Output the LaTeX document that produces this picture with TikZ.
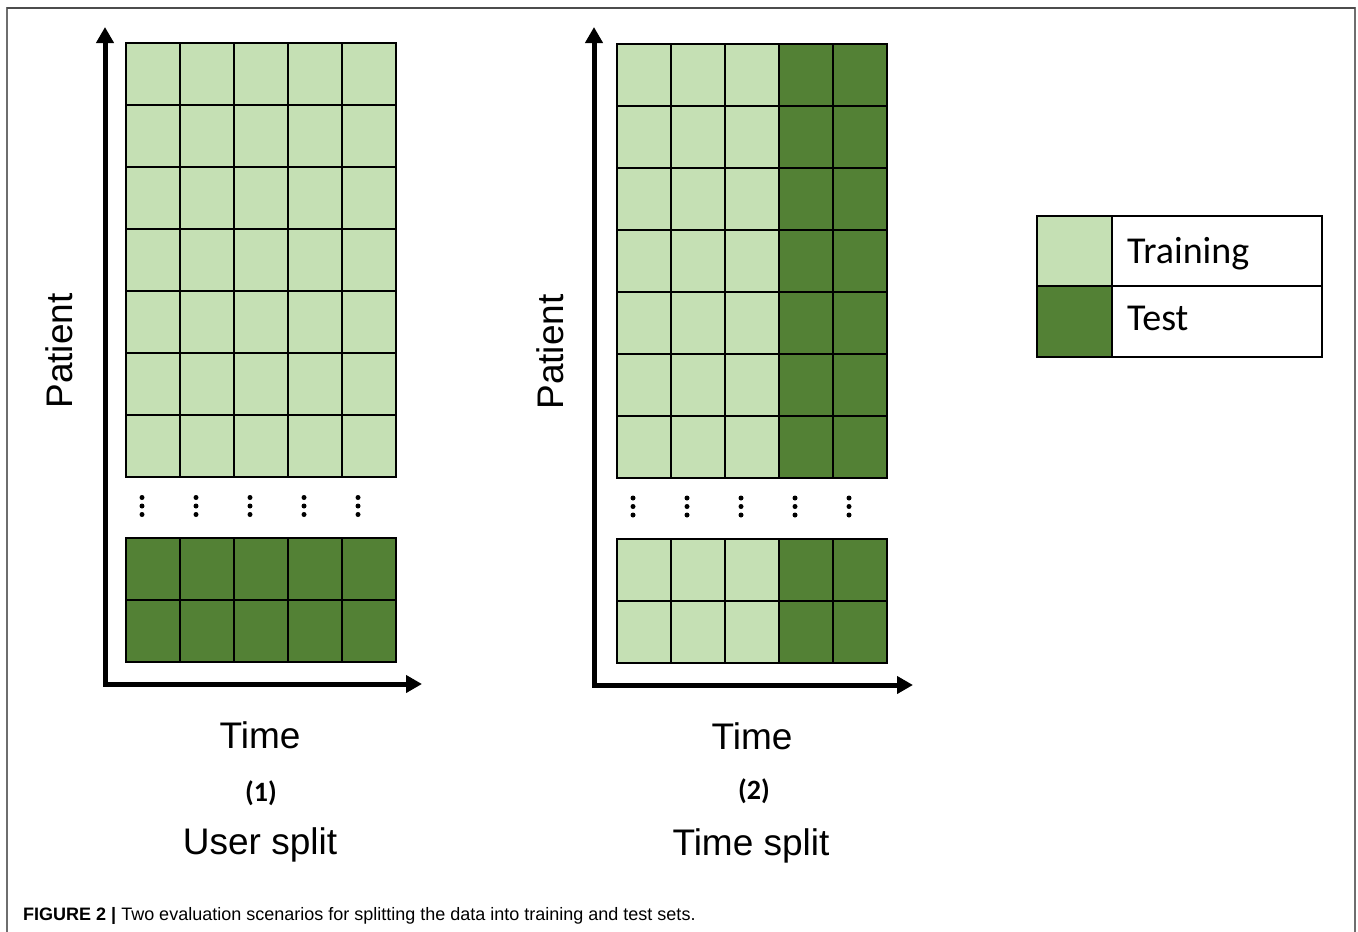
\documentclass[tikz,border=0pt]{standalone}
\usepackage{fontspec}
\setmainfont{Liberation Sans}
\newfontfamily\carlito{Carlito}
\usetikzlibrary{arrows.meta}
\definecolor{trainc}{HTML}{C5E0B4}
\definecolor{testc}{HTML}{538135}
\definecolor{framec}{HTML}{6E6E6E}
\tikzset{
  cell/.style={minimum width=54pt, minimum height=62pt, inner sep=0pt, outer sep=0pt},
  cellb/.style={cell},
  cellline/.style={draw=black, line width=2pt},
  axis/.style={line width=5pt, {Triangle[length=16pt,width=17pt]}-{Triangle[length=16pt,width=17pt]}, line join=miter},
  dotc/.style={circle, fill=black, inner sep=0pt, minimum size=5pt},
  lab/.style={font=\fontsize{37}{40}\selectfont, inner sep=0pt},
  num/.style={font=\carlito\bfseries\fontsize{28}{32}\selectfont, inner sep=0pt},
  legtxt/.style={font=\carlito\fontsize{38}{42}\selectfont, inner sep=0pt, anchor=base west},
  legbox/.style={draw=black, line width=2pt, inner sep=0pt, outer sep=0pt}
}
\begin{document}
\begin{tikzpicture}[x=1pt,y=-1pt]
\useasboundingbox (0,0) rectangle (1358,932);
% frame
\draw[framec, line width=1.6pt] (7,932) -- (7,8) -- (1355,8) -- (1355,932);
\draw[black!70, line width=1.6pt] (7,8) -- (1355,8);

% ---------- panel 1: user split ----------
\foreach \r in {0,...,6}{
  \foreach \c in {0,...,4}{
    \node[cell, fill=trainc] (A-\r-\c) at (126+27+54*\c, 43+31+62*\r) {};
  }
}
\foreach \r in {0,1}{
  \foreach \c in {0,...,4}{
    \node[cellb, fill=testc] (AB-\r-\c) at (126+27+54*\c, 538+31+62*\r) {};
  }
}
\foreach \r in {0,...,6}{
  \foreach \c in {0,...,4}{
    \draw[cellline] (A-\r-\c.south west) rectangle (A-\r-\c.north east);
  }
}
\foreach \r in {0,1}{
  \foreach \c in {0,...,4}{
    \draw[cellline] (AB-\r-\c.south west) rectangle (AB-\r-\c.north east);
  }
}
\foreach \c in {0,...,4}{
  \foreach \k in {0,1,2}{
    \node[dotc] (AD-\c-\k) at (142+54*\c, 497.5+8.5*\k) {};
  }
}
\coordinate (A-ytip) at (105,27);
\coordinate (A-corner) at (105,684);
\coordinate (A-xtip) at (422,684);
\draw[axis] (A-ytip) -- (A-corner) -- (A-xtip);
\node[lab, rotate=90, anchor=base] (A-pat) at (72,351) {Patient};
\node[lab, anchor=base] (A-time) at (260,748) {Time};
\node[num] (A-num) at (261,793) {(1)};
\node[lab, anchor=base] (A-name) at (260,854) {User split};

% ---------- panel 2: time split ----------
\foreach \r in {0,...,6}{
  \foreach \c/\col in {0/trainc,1/trainc,2/trainc,3/testc,4/testc}{
    \node[cell, fill=\col] (B-\r-\c) at (617+27+54*\c, 44+31+62*\r) {};
  }
}
\foreach \r in {0,1}{
  \foreach \c/\col in {0/trainc,1/trainc,2/trainc,3/testc,4/testc}{
    \node[cellb, fill=\col] (BB-\r-\c) at (617+27+54*\c, 539+31+62*\r) {};
  }
}
\foreach \r in {0,...,6}{
  \foreach \c in {0,...,4}{
    \draw[cellline] (B-\r-\c.south west) rectangle (B-\r-\c.north east);
  }
}
\foreach \r in {0,1}{
  \foreach \c in {0,...,4}{
    \draw[cellline] (BB-\r-\c.south west) rectangle (BB-\r-\c.north east);
  }
}
\foreach \c in {0,...,4}{
  \foreach \k in {0,1,2}{
    \node[dotc] (BD-\c-\k) at (633+54*\c, 498+8.5*\k) {};
  }
}
\coordinate (B-ytip) at (594,27);
\coordinate (B-corner) at (594,685);
\coordinate (B-xtip) at (913,685);
\draw[axis] (B-ytip) -- (B-corner) -- (B-xtip);
\node[lab, rotate=90, anchor=base] (B-pat) at (563,352) {Patient};
\node[lab, anchor=base] (B-time) at (752,749) {Time};
\node[num] (B-num) at (754,791) {(2)};
\node[lab, anchor=base] (B-name) at (751,855) {Time split};

% ---------- legend ----------
\node[legbox, fill=trainc, minimum width=75pt, minimum height=70pt] (L-trc) at (1037+37.5,216+35) {};
\node[legbox, fill=testc, minimum width=75pt, minimum height=71pt] (L-tec) at (1037+37.5,286+35.5) {};
\node[legbox, fill=white, minimum width=210pt, minimum height=70pt] (L-trb) at (1112+105,216+35) {};
\node[legbox, fill=white, minimum width=210pt, minimum height=71pt] (L-teb) at (1112+105,286+35.5) {};
\node[legtxt] (L-trt) at (1127,263) {Training};
\node[legtxt] (L-tet) at (1127,330) {Test};

% ---------- caption ----------
\node[anchor=base west, inner sep=0pt, font=\fontsize{18}{20}\selectfont] (cap) at (23,920)
  {\textbf{FIGURE 2 |} Two evaluation scenarios for splitting the data into training and test sets.};
\end{tikzpicture}
\end{document}
